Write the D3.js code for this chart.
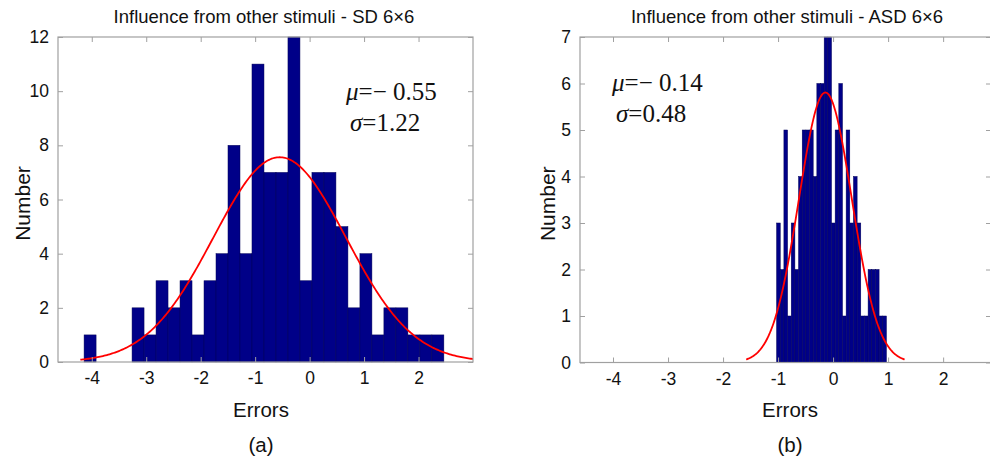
<!DOCTYPE html>
<html>
<head>
<meta charset="utf-8">
<script src="https://cdn.jsdelivr.net/npm/d3@7"></script>
<style>
  html, body { margin: 0; padding: 0; background: #fff; }
  svg { display: block; }
  text { font-family: "Liberation Sans", Arial, sans-serif; fill: #111; }
  .stat { font-family: "Liberation Serif", "Times New Roman", serif; }
</style>
</head>
<body>
<div id="chart"></div>
<script>
// ---------- data ----------
// Panel (a): SD 6x6
const titleA = "Influence from other stimuli - SD 6\u00d76";
const countsA = [1,0,0,0,2,1,3,2,3,1,3,4,8,4,11,7,7,12,3,7,7,5,2,4,1,2,2,1,1,1];
const binRangeA = [-4.141, 2.465];
const muA = -0.55, sigmaA = 1.22;
const xTicksA = [-4,-3,-2,-1,0,1,2];
const yTicksA = [0,2,4,6,8,10,12];
const xDomainA = [-4.62, 3.0];
const yDomainA = [0, 12];
const captionA = "(a)";

// Panel (b): ASD 6x6
const titleB = "Influence from other stimuli - ASD 6\u00d76";
const countsB = [3,2,5,1,3,2,4,5,5,5,4,6,6,7,7,3,5,6,1,5,3,4,3,1,1,2,2,2,1,1];
const binRangeB = [-1.027, 0.969];
const muB = -0.14, sigmaB = 0.48;
const xTicksB = [-4,-3,-2,-1,0,1,2];
const yTicksB = [0,1,2,3,4,5,6,7];
const xDomainB = [-4.6, 2.87];
const yDomainB = [0, 7];
const captionB = "(b)";

const xLabel = "Errors";
const yLabel = "Number";

// ---------- drawing ----------
const W = 990, H = 465;
const svg = d3.select("#chart").append("svg").attr("width", W).attr("height", H);

function panel(cfg) {
  const {id, title, counts, binRange, mu, sigma, xTicks, yTicks, xDomain, yDomain,
         caption, box, statPos, ylabX} = cfg;
  const g = svg.append("g");
  const x = d3.scaleLinear().domain(xDomain).range([box.l, box.r]);
  const y = d3.scaleLinear().domain(yDomain).range([box.b, box.t]);
  const n = counts.length;
  const bw = (binRange[1] - binRange[0]) / n;
  const bins = counts.map((c, i) => ({x0: binRange[0] + i * bw, x1: binRange[0] + (i + 1) * bw, c}));

  // clip
  svg.append("clipPath").attr("id", "clip" + id).append("rect")
    .attr("x", box.l).attr("y", box.t).attr("width", box.r - box.l).attr("height", box.b - box.t);

  // bars
  g.append("g").selectAll("rect").data(bins.filter(d => d.c > 0)).join("rect")
    .attr("x", d => x(d.x0))
    .attr("width", d => x(d.x1) - x(d.x0))
    .attr("y", d => y(d.c))
    .attr("height", d => y(0) - y(d.c))
    .attr("fill", "#000088")
    .attr("stroke", "#000058")
    .attr("stroke-width", 0.5);

  // fitted normal curve
  const total = d3.sum(counts);
  const pts = d3.range(0, 301).map(i => {
    const v = mu - 3 * sigma + (6 * sigma) * i / 300;
    const yy = total * bw / (sigma * Math.sqrt(2 * Math.PI)) * Math.exp(-0.5 * ((v - mu) / sigma) ** 2);
    return [v, yy];
  });
  g.append("path").datum(pts)
    .attr("clip-path", `url(#clip${id})`)
    .attr("fill", "none").attr("stroke", "#ff0000").attr("stroke-width", 1.8)
    .attr("d", d3.line().x(d => x(d[0])).y(d => y(d[1])));

  // axes box
  const axCol = "#a0a0a0";
  g.append("rect").attr("x", box.l).attr("y", box.t)
    .attr("width", box.r - box.l).attr("height", box.b - box.t)
    .attr("fill", "none").attr("stroke", axCol).attr("stroke-width", 1.2);

  // ticks (inward, MATLAB style)
  const tl = 5;
  const fmtTick = d => String(d);
  const bottomAxis = d3.axisBottom(x).tickValues(xTicks).tickSize(-tl).tickPadding(9).tickFormat(fmtTick);
  const topAxis = d3.axisTop(x).tickValues(xTicks).tickSize(-tl).tickFormat("");
  const leftAxis = d3.axisLeft(y).tickValues(yTicks).tickSize(-tl).tickPadding(9).tickFormat(fmtTick);
  const rightAxis = d3.axisRight(y).tickValues(yTicks).tickSize(-tl).tickFormat("");

  const styleAxis = (sel) => {
    sel.select(".domain").remove();
    sel.selectAll(".tick line").attr("stroke", axCol).attr("stroke-width", 1);
    sel.selectAll(".tick text").style("font-family", '"Liberation Sans", Arial, sans-serif')
      .style("font-size", "17.5px").attr("fill", "#111");
  };
  g.append("g").attr("transform", `translate(0,${box.b})`).call(bottomAxis).call(styleAxis)
    .selectAll(".tick text").attr("dy", "0.75em");
  g.append("g").attr("transform", `translate(0,${box.t})`).call(topAxis).call(styleAxis);
  g.append("g").attr("transform", `translate(${box.l},0)`).call(leftAxis).call(styleAxis);
  g.append("g").attr("transform", `translate(${box.r},0)`).call(rightAxis).call(styleAxis);

  // title
  g.append("text").attr("x", cfg.titleX).attr("y", 23).attr("text-anchor", "middle")
    .style("font-size", "18.5px").text(title);
  // x label
  g.append("text").attr("x", cfg.labelX).attr("y", 417).attr("text-anchor", "middle")
    .style("font-size", "20.5px").text(xLabel);
  // caption
  g.append("text").attr("x", cfg.labelX).attr("y", 452).attr("text-anchor", "middle")
    .style("font-size", "20.5px").text(caption);
  // y label
  g.append("text").attr("transform", `translate(${ylabX},${(box.t + box.b) / 2 + 4}) rotate(-90)`)
    .attr("text-anchor", "middle").attr("dominant-baseline", "central")
    .style("font-size", "21px").text(yLabel);

  // stats text
  const fmt = d3.format(".2f");
  const t1 = g.append("text").attr("class", "stat").attr("x", statPos.x).attr("y", statPos.y1)
    .style("font-size", "25px");
  t1.append("tspan").style("font-style", "italic").text("\u03bc");
  t1.append("tspan").text("=\u2212 " + fmt(Math.abs(mu)));
  const t2 = g.append("text").attr("class", "stat").attr("x", statPos.x + 4).attr("y", statPos.y2)
    .style("font-size", "25px");
  t2.append("tspan").style("font-style", "italic").text("\u03c3");
  t2.append("tspan").text("=" + fmt(sigma));
}

panel({
  id: "A", title: titleA, counts: countsA, binRange: binRangeA, mu: muA, sigma: sigmaA,
  xTicks: xTicksA, yTicks: yTicksA, xDomain: xDomainA, yDomain: yDomainA, caption: captionA,
  box: {l: 58, r: 473, t: 37, b: 362}, statPos: {x: 346, y1: 100, y2: 131}, ylabX: 22,
  titleX: 264, labelX: 261
});
panel({
  id: "B", title: titleB, counts: countsB, binRange: binRangeB, mu: muB, sigma: sigmaB,
  xTicks: xTicksB, yTicks: yTicksB, xDomain: xDomainB, yDomain: yDomainB, caption: captionB,
  box: {l: 580, r: 991, t: 37, b: 362.5}, statPos: {x: 612, y1: 91, y2: 122}, ylabX: 547,
  titleX: 787, labelX: 790
});
</script>
</body>
</html>
